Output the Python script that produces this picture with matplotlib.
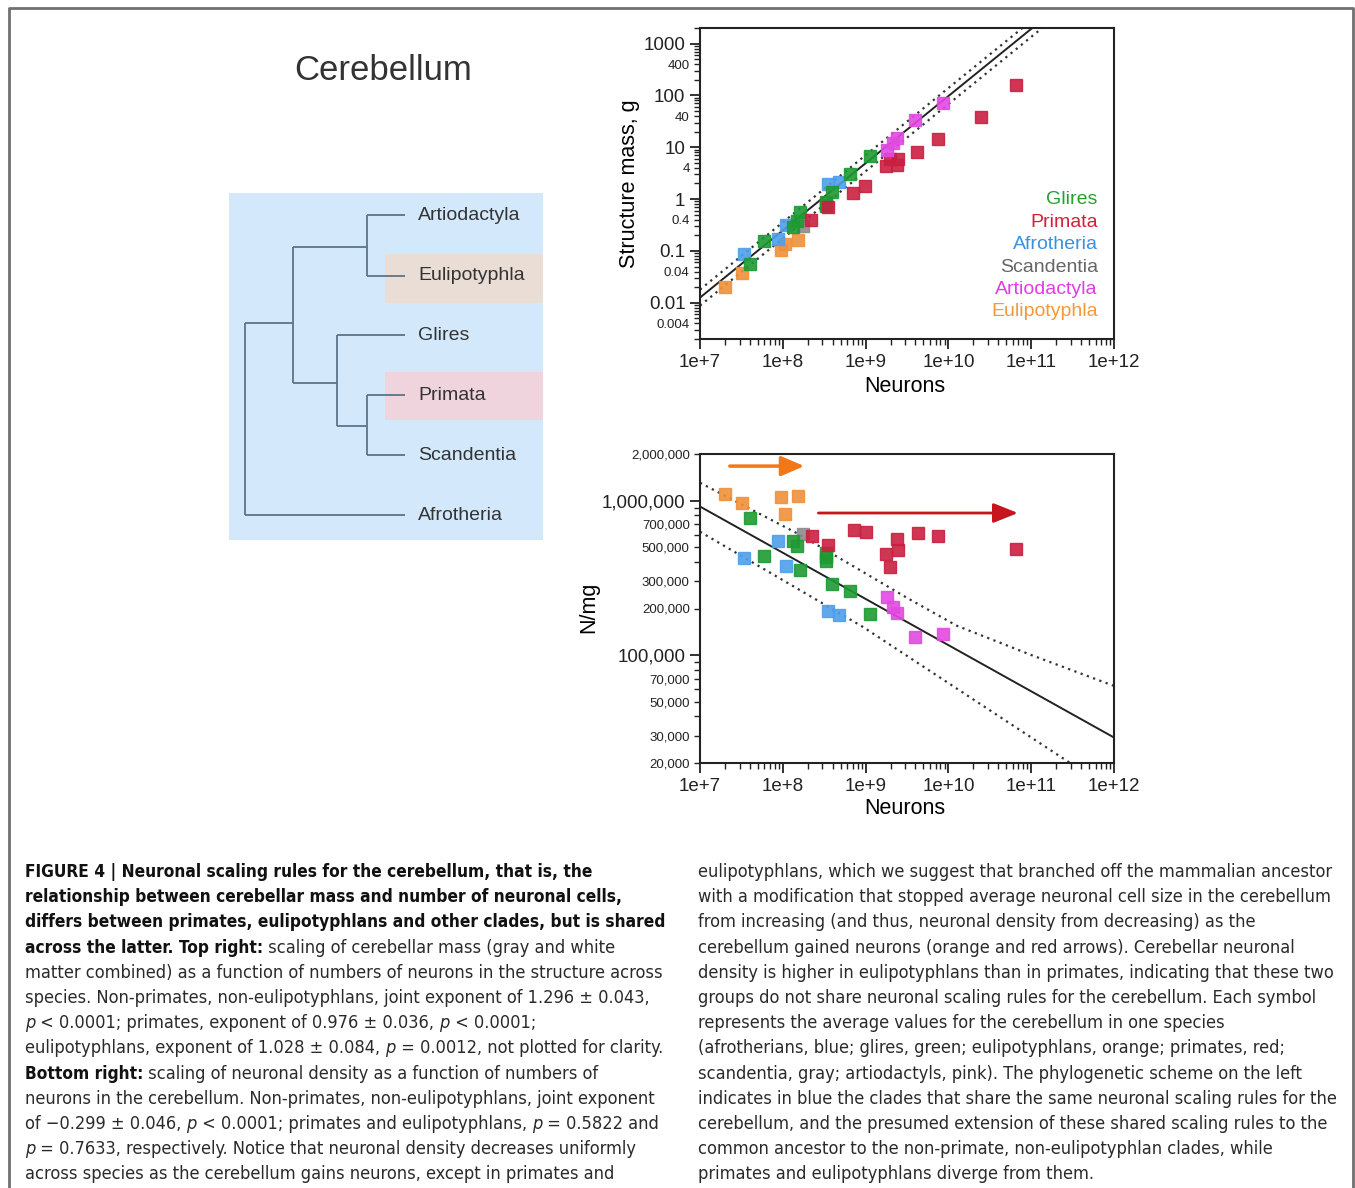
import numpy as np
import matplotlib
matplotlib.use('Agg')
import matplotlib.pyplot as plt
from matplotlib import font_manager
from matplotlib.font_manager import FontProperties
from matplotlib.patches import Rectangle
from matplotlib.ticker import LogLocator, FuncFormatter

plt.rcParams['font.family'] = ['Liberation Sans', 'DejaVu Sans']

W, H = 1355, 1188

# ---------------- data ----------------
# top panel: neurons vs cerebellar mass (g)
glires_n = [4.0e7, 5.9e7, 1.33e8, 1.48e8, 1.6e8, 3.3e8, 3.3e8, 3.3e8, 3.9e8, 6.5e8, 1.13e9]
glires_mass = [0.057, 0.157, 0.293, 0.37, 0.57, 0.72, 0.78, 0.89, 1.35, 3.07, 6.8]
primata_mass_n = [2.2e8, 3.5e8, 7.1e8, 9.8e8, 1.76e9, 1.97e9, 2.4e9, 2.46e9, 4.2e9,
                  7.5e9, 2.5e10, 6.6e10]
primata_mass = [0.40, 0.71, 1.33, 1.81, 4.4, 6.0, 4.6, 6.0, 8.2, 14.7, 38, 160]
afro_n = [3.4e7, 8.7e7, 1.1e8, 3.5e8, 4.8e8]
afro_mass = [0.088, 0.172, 0.32, 1.98, 2.17]
scand_n = [1.75e8]
scand_mass = [0.30]
artio_n = [1.81e9, 2.14e9, 2.4e9, 3.95e9, 8.6e9]
artio_mass = [9.0, 12.0, 15.0, 34.0, 72.0]
euli_n = [2.0e7, 3.2e7, 9.5e7, 1.06e8, 1.53e8]
euli_mass = [0.0204, 0.038, 0.105, 0.138, 0.164]

# bottom panel: neuronal density (N/mg)
glires_dens = [7.7e5, 4.4e5, 5.5e5, 5.1e5, 3.55e5, 4.6e5, 4.3e5, 4.05e5, 2.9e5, 2.6e5, 1.84e5]
primata_n = [2.25e8, 3.5e8, 7.2e8, 1.01e9, 1.76e9, 1.97e9, 2.4e9, 2.46e9, 4.3e9, 7.5e9, 6.5e10]
primata_dens = [5.9e5, 5.15e5, 6.4e5, 6.25e5, 4.5e5, 3.7e5, 5.6e5, 4.8e5, 6.2e5, 5.9e5, 4.85e5]
afro_dens = [4.25e5, 5.5e5, 3.77e5, 1.93e5, 1.82e5]
scand_dens = [6.1e5]
artio_dens = [2.37e5, 2.05e5, 1.87e5, 1.31e5, 1.37e5]
euli_dens = [1.10e6, 9.6e5, 1.05e6, 8.2e5, 1.07e6]

# fits (log10 units)
mass_exp, mass_icpt, mass_band = 1.296, -1.90, 0.155      # intercept at 1e7 neurons
dens_exp, dens_icpt = -0.299, 5.961
dens_upper = ([7.0, 8.2, 9.5, 10.1, 11.0, 12.0], [6.115, 5.78, 5.37, 5.19, 5.0, 4.80])
dens_lower = ([7.0, 8.97, 11.47, 12.0], [5.798, 5.181, 4.301, 4.12])

clades = ['Glires', 'Primata', 'Afrotheria', 'Scandentia', 'Artiodactyla', 'Eulipotyphla']
mark_col = {'Glires': '#1e9a33', 'Primata': '#c92040', 'Afrotheria': '#4f9fea',
            'Scandentia': '#8c8c8c', 'Artiodactyla': '#e24ae0', 'Eulipotyphla': '#f0903a'}
text_col = {'Glires': '#22a032', 'Primata': '#d41f3b', 'Afrotheria': '#3b90e2',
            'Scandentia': '#666666', 'Artiodactyla': '#e23ce6', 'Eulipotyphla': '#f29a3a'}

mass_sets = [('Eulipotyphla', euli_n, euli_mass), ('Afrotheria', afro_n, afro_mass),
             ('Scandentia', scand_n, scand_mass), ('Glires', glires_n, glires_mass),
             ('Primata', primata_mass_n, primata_mass), ('Artiodactyla', artio_n, artio_mass)]
dens_sets = [('Eulipotyphla', euli_n, euli_dens), ('Afrotheria', afro_n, afro_dens),
             ('Scandentia', scand_n, scand_dens), ('Glires', glires_n, glires_dens),
             ('Primata', primata_n, primata_dens), ('Artiodactyla', artio_n, artio_dens)]

tree_leaves = ['Artiodactyla', 'Eulipotyphla', 'Glires', 'Primata', 'Scandentia', 'Afrotheria']

fig = plt.figure(figsize=(W / 100, H / 100), dpi=100)

# background overlay in pixel coordinates (frame, tree)
bg = fig.add_axes([0, 0, 1, 1], zorder=-1)
bg.set_xlim(0, W)
bg.set_ylim(H, 0)
bg.axis('off')
bg.plot([8.5, 8.5, 1353, 1353], [H, 8, 8, H], color='#707070', lw=2)

# phylogenetic scheme
bg.add_patch(Rectangle((229, 193), 314, 347, color='#d3e9fb', lw=0))
bg.add_patch(Rectangle((385, 254), 158, 49, color='#e9ddd6', lw=0))
bg.add_patch(Rectangle((385, 372), 158, 48, color='#efd3dd', lw=0))
leaf_y = dict(zip(tree_leaves, [215, 276, 335, 395, 455, 515]))
tc = '#5b7489'
segs = [([367, 405], [215, 215]), ([367, 405], [276, 276]), ([367, 367], [215, 276]),
        ([293, 367], [247, 247]),
        ([367, 405], [395, 395]), ([367, 405], [455, 455]), ([367, 367], [395, 455]),
        ([337, 367], [426, 426]), ([337, 405], [335, 335]), ([337, 337], [335, 426]),
        ([293, 337], [383, 383]), ([293, 293], [247, 383]),
        ([245, 293], [323, 323]), ([245, 245], [323, 515]), ([245, 405], [515, 515])]
for xs, ys in segs:
    bg.plot(xs, ys, color=tc, lw=1.3, solid_capstyle='butt')
for name in tree_leaves:
    bg.text(418, leaf_y[name], name, fontsize=14, color='#333333', va='center', ha='left')

fig.text(383 / W, 1 - 70 / H, 'Cerebellum', fontsize=25, color='#333333',
         ha='center', va='center')


def fmt_x(v, pos):
    return '1e+%d' % round(np.log10(v))


def style_axes(ax):
    ax.set_xscale('log')
    ax.set_yscale('log')
    ax.set_xlim(1e7, 1e12)
    for s in ax.spines.values():
        s.set_linewidth(1.5)
        s.set_color('#222222')
    ax.tick_params(which='both', direction='out', top=False, right=False, colors='#222222')
    ax.tick_params(which='major', length=7, width=1.3, labelsize=13.5)
    ax.tick_params(which='minor', length=4, width=1.0, labelsize=9.5)
    ax.xaxis.set_major_locator(LogLocator(base=10, numticks=20))
    ax.xaxis.set_minor_locator(LogLocator(base=10, subs=np.arange(2, 10), numticks=20))
    ax.xaxis.set_major_formatter(FuncFormatter(fmt_x))
    ax.xaxis.set_minor_formatter(FuncFormatter(lambda v, p: ''))
    ax.set_xlabel('Neurons', fontsize=15.5)


# ---------------- top panel ----------------
ax1 = fig.add_axes([700 / W, 1 - 339 / H, 414 / W, 311 / H])
style_axes(ax1)
ax1.xaxis.set_label_coords(0.495, -0.12)
ax1.set_ylim(0.002, 2000)
ax1.yaxis.set_major_locator(LogLocator(base=10, numticks=20))
ax1.yaxis.set_minor_locator(LogLocator(base=10, subs=np.arange(2, 10), numticks=20))
ax1.yaxis.set_major_formatter(FuncFormatter(lambda v, p: '%g' % v))


def minor_mass(v, p):
    lead = v / 10 ** np.floor(np.log10(v) + 1e-9)
    return '%g' % v if abs(lead - 4) < 1e-6 else ''


ax1.yaxis.set_minor_formatter(FuncFormatter(minor_mass))
xf = np.logspace(7, 12, 100)
lx = np.log10(xf) - 7
ax1.plot(xf, 10 ** (mass_icpt + mass_exp * lx), color='#222222', lw=1.4)
for off in (mass_band, -mass_band):
    ax1.plot(xf, 10 ** (mass_icpt + off + mass_exp * lx), color='#333333', lw=1.6,
             ls=(0, (1, 2)))
for name, xs, ys in mass_sets:
    ax1.plot(xs, ys, 's', ms=8, color=mark_col[name], mec=mark_col[name], alpha=0.9)
ax1.set_ylabel('Structure mass, g', fontsize=15.5)
ax1.yaxis.set_label_coords(-0.145, 0.5)
for i, name in enumerate(clades):
    ax1.text(0.961, 0.447 - i * 0.072, name, color=text_col[name], fontsize=14,
             ha='right', va='center', transform=ax1.transAxes)

# ---------------- bottom panel ----------------
ax2 = fig.add_axes([700 / W, 1 - 763 / H, 414 / W, 309 / H])
style_axes(ax2)
ax2.xaxis.set_label_coords(0.495, -0.113)
ax2.set_ylim(2e4, 2e6)
ax2.yaxis.set_major_locator(LogLocator(base=10, numticks=20))
ax2.yaxis.set_minor_locator(LogLocator(base=10, subs=np.arange(2, 10), numticks=20))
ax2.yaxis.set_major_formatter(FuncFormatter(lambda v, p: '{:,.0f}'.format(v)))


def minor_dens(v, p):
    lead = round(v / 10 ** np.floor(np.log10(v) + 1e-9))
    if lead in (2, 3, 5, 7):
        return '{:,.0f}'.format(v)
    return ''


ax2.yaxis.set_minor_formatter(FuncFormatter(minor_dens))
ax2.plot(xf, 10 ** (dens_icpt + dens_exp * lx), color='#222222', lw=1.4)
for xs, ys in (dens_upper, dens_lower):
    ax2.plot(10 ** np.array(xs), 10 ** np.array(ys), color='#333333', lw=1.6,
             ls=(0, (1, 2)))
for name, xs, ys in dens_sets:
    ax2.plot(xs, ys, 's', ms=8, color=mark_col[name], mec=mark_col[name], alpha=0.9)
ax2.set_ylabel('N/mg', fontsize=15.5)
ax2.yaxis.set_label_coords(-0.243, 0.505)
ax2.annotate('', xy=(10 ** 8.26, 1.67e6), xytext=(10 ** 7.36, 1.67e6),
             arrowprops=dict(arrowstyle='-|>,head_length=1.4,head_width=0.6',
                             color='#f07818', lw=2.5, shrinkA=0, shrinkB=0))
ax2.annotate('', xy=(10 ** 10.84, 8.3e5), xytext=(10 ** 8.43, 8.3e5),
             arrowprops=dict(arrowstyle='-|>,head_length=1.5,head_width=0.6',
                             color='#c8141c', lw=2, shrinkA=0, shrinkB=0))

# ---------------- caption ----------------
def font_path(**kw):
    try:
        return font_manager.findfont(FontProperties(**kw), fallback_to_default=False)
    except Exception:
        return ''


cap_family = ['Liberation Sans', 'DejaVu Sans']
cap_stretch = 'normal'
if 'Narrow' in font_path(family='Liberation Sans Narrow'):
    cap_family = ['Liberation Sans Narrow', 'DejaVu Sans']
elif 'Condensed' in font_path(family='DejaVu Sans', stretch='condensed'):
    cap_family = ['DejaVu Sans']
    cap_stretch = 'condensed'

cap_left = [
    [("FIGURE 4 | Neuronal scaling rules for the cerebellum, that is, the", 'b')],
    [("relationship between cerebellar mass and number of neuronal cells,", 'b')],
    [("differs between primates, eulipotyphlans and other clades, but is shared", 'b')],
    [("across the latter. Top right:", 'b'), (" scaling of cerebellar mass (gray and white", 'n')],
    [("matter combined) as a function of numbers of neurons in the structure across", 'n')],
    [("species. Non-primates, non-eulipotyphlans, joint exponent of 1.296 \u00b1 0.043,", 'n')],
    [("p", 'i'), (" < 0.0001; primates, exponent of 0.976 \u00b1 0.036, ", 'n'), ("p", 'i'),
     (" < 0.0001;", 'n')],
    [("eulipotyphlans, exponent of 1.028 \u00b1 0.084, ", 'n'), ("p", 'i'),
     (" = 0.0012, not plotted for clarity.", 'n')],
    [("Bottom right:", 'b'), (" scaling of neuronal density as a function of numbers of", 'n')],
    [("neurons in the cerebellum. Non-primates, non-eulipotyphlans, joint exponent", 'n')],
    [("of \u22120.299 \u00b1 0.046, ", 'n'), ("p", 'i'),
     (" < 0.0001; primates and eulipotyphlans, ", 'n'), ("p", 'i'), (" = 0.5822 and", 'n')],
    [("p", 'i'), (" = 0.7633, respectively. Notice that neuronal density decreases uniformly", 'n')],
    [("across species as the cerebellum gains neurons, except in primates and", 'n')],
]
cap_right = [
    "eulipotyphlans, which we suggest that branched off the mammalian ancestor",
    "with a modification that stopped average neuronal cell size in the cerebellum",
    "from increasing (and thus, neuronal density from decreasing) as the",
    "cerebellum gained neurons (orange and red arrows). Cerebellar neuronal",
    "density is higher in eulipotyphlans than in primates, indicating that these two",
    "groups do not share neuronal scaling rules for the cerebellum. Each symbol",
    "represents the average values for the cerebellum in one species",
    "(afrotherians, blue; glires, green; eulipotyphlans, orange; primates, red;",
    "scandentia, gray; artiodactyls, pink). The phylogenetic scheme on the left",
    "indicates in blue the clades that share the same neuronal scaling rules for the",
    "cerebellum, and the presumed extension of these shared scaling rules to the",
    "common ancestor to the non-primate, non-eulipotyphlan clades, while",
    "primates and eulipotyphlans diverge from them.",
]

renderer = fig.canvas.get_renderer()
sizes = {}


def run_kw(st):
    kw = dict(fontsize=sizes[st], family=cap_family, fontstretch=cap_stretch,
              va='baseline', ha='left', color='#2a2a2a')
    if st == 'b':
        kw['fontweight'] = 'bold'
        kw['color'] = '#111111'
    if st == 'i':
        kw['fontstyle'] = 'italic'
    return kw


def line_width(runs):
    w = 0
    for s, st in runs:
        t = fig.text(0, 0, s, **run_kw(st))
        w += t.get_window_extent(renderer).width
        t.remove()
    return w


def draw_runs(x, y, runs):
    for s, st in runs:
        t = fig.text(x / W, 1 - y / H, s, **run_kw(st))
        x += t.get_window_extent(renderer).width


# size the regular and bold faces so their widest lines fill the 640 px column
base = 13.5
sizes = {'n': base, 'b': base, 'i': base}
normal_lines = [r for r in cap_left if all(st == 'n' for _, st in r)] + \
    [[(l, 'n')] for l in cap_right]
bold_lines = [r for r in cap_left if all(st == 'b' for _, st in r)]
w_n = max(line_width(r) for r in normal_lines)
w_b = max(line_width(r) for r in bold_lines)
sizes = {'n': base * 640 / w_n, 'b': base * 640 / w_b, 'i': base * 640 / w_n}

for i, runs in enumerate(cap_left):
    draw_runs(25, 877 + i * 25.2, runs)
for i, line in enumerate(cap_right):
    draw_runs(698, 877 + i * 25.2, [(line, 'n')])

fig.savefig('out.png', dpi=100)
